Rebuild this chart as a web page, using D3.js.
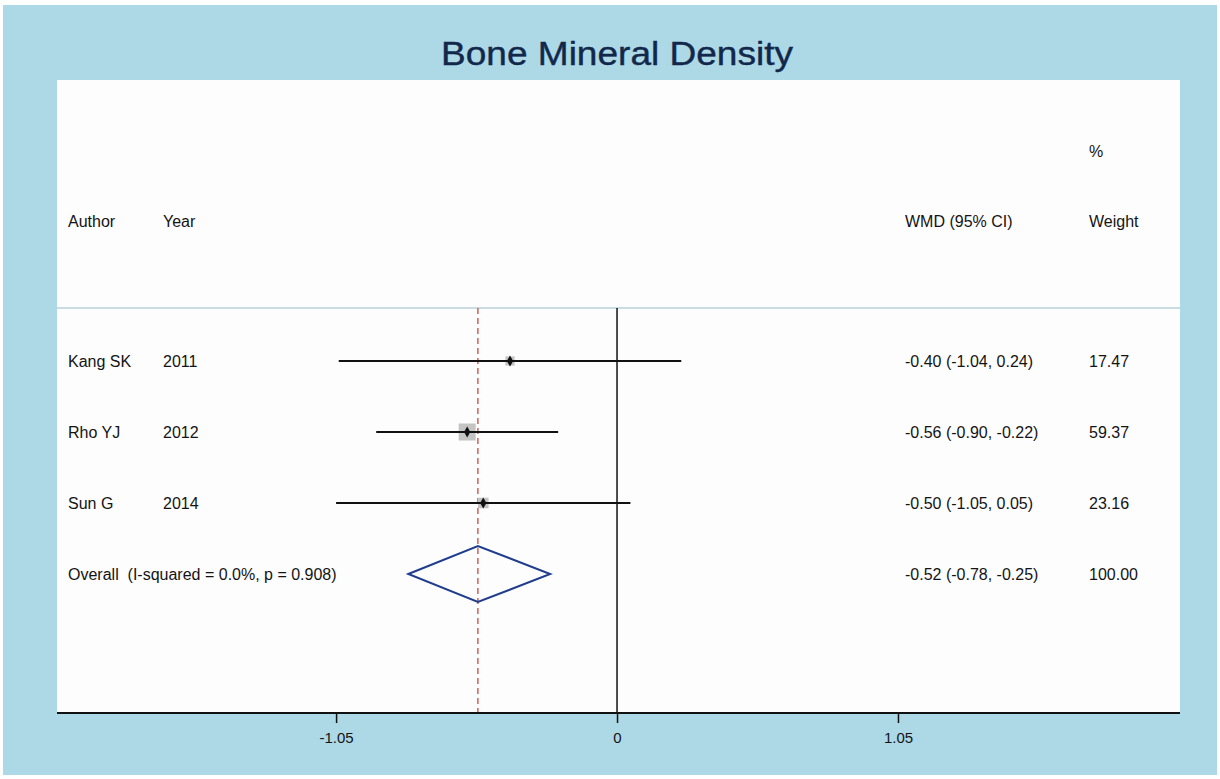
<!DOCTYPE html>
<html>
<head>
<meta charset="utf-8">
<script src="https://cdn.jsdelivr.net/npm/d3@7"></script>
<style>
  body { margin: 0; background: #fff; }
  svg text { font-family: "Liberation Sans", Arial, sans-serif; }
</style>
</head>
<body>
<div id="chart"></div>
<script>
// study data
const authors = ['Kang SK', 'Rho YJ', 'Sun G'];
const years = ['2011', '2012', '2014'];
const wmd = [-0.40, -0.56, -0.50];
const lower = [-1.04, -0.90, -1.05];
const upper = [0.24, -0.22, 0.05];
const weights = [17.47, 59.37, 23.16];
const overall = { label: 'Overall  (I-squared = 0.0%, p = 0.908)', est: -0.52, lo: -0.78, hi: -0.25, weight: 100.00 };
const tickValues = [-1.05, 0, 1.05];

const width = 1220, height = 779;
const plot = { left: 57, right: 1180, top: 80, bottom: 713 };
const headerLine = 308;
const fs = '16px';
const ink = '#141414';

const svg = d3.select('#chart').append('svg')
  .attr('width', width)
  .attr('height', height);

svg.append('rect')
  .attr('x', 3).attr('y', 5)
  .attr('width', 1214).attr('height', 770)
  .attr('fill', '#add8e6');

svg.append('rect')
  .attr('x', plot.left).attr('y', plot.top)
  .attr('width', plot.right - plot.left).attr('height', plot.bottom - plot.top)
  .attr('fill', '#fdfdfe');

svg.append('text')
  .attr('x', 441).attr('y', 65)
  .attr('textLength', 352)
  .attr('lengthAdjust', 'spacingAndGlyphs')
  .style('font-size', '33px')
  .attr('fill', '#12284b')
  .attr('stroke', '#12284b').attr('stroke-width', 0.4)
  .text('Bone Mineral Density');

const x = d3.scaleLinear()
  .domain([-2.093, 2.104])
  .range([plot.left, plot.right]);

const rows = authors.map((a, i) => ({
  author: a, year: years[i], est: wmd[i], lo: lower[i], hi: upper[i], w: weights[i]
}));
const y = d3.scalePoint()
  .domain(d3.range(rows.length + 1))
  .range([361, 574]);

// header
const headG = svg.append('g').style('font-size', fs).attr('fill', ink);
headG.append('text').attr('x', 68).attr('y', 227).text('Author');
headG.append('text').attr('x', 163).attr('y', 227).text('Year');
headG.append('text').attr('x', 905).attr('y', 227).text('WMD (95% CI)');
headG.append('text').attr('x', 1089).attr('y', 227).text('Weight');
headG.append('text').attr('x', 1089).attr('y', 157).text('%');

svg.append('line')
  .attr('x1', plot.left).attr('x2', plot.right)
  .attr('y1', headerLine).attr('y2', headerLine)
  .attr('stroke', '#b9cfd9').attr('stroke-width', 1.5);

// reference lines
svg.append('line')
  .attr('x1', x(0)).attr('x2', x(0))
  .attr('y1', headerLine).attr('y2', plot.bottom)
  .attr('stroke', '#111').attr('stroke-width', 1.5);

svg.append('line')
  .attr('x1', x(overall.est)).attr('x2', x(overall.est))
  .attr('y1', headerLine).attr('y2', plot.bottom)
  .attr('stroke', '#cc6357').attr('stroke-width', 1.5)
  .attr('stroke-dasharray', '6,4');

// study rows
const maxW = d3.max(weights);
const box = d3.scaleSqrt().domain([0, maxW]).range([0, 17]);

const rowG = svg.selectAll('.row').data(rows).enter()
  .append('g').attr('class', 'row')
  .attr('transform', (d, i) => `translate(0,${y(i)})`);

rowG.append('rect')
  .attr('x', d => x(d.est) - box(d.w) / 2)
  .attr('y', d => -box(d.w) / 2)
  .attr('width', d => box(d.w))
  .attr('height', d => box(d.w))
  .attr('fill', '#c4c4c4');

rowG.append('line')
  .attr('x1', d => x(d.lo)).attr('x2', d => x(d.hi))
  .attr('stroke', '#111').attr('stroke-width', 2);

rowG.append('path')
  .attr('d', d3.symbol(d3.symbolDiamond, 34))
  .attr('transform', d => `translate(${x(d.est)},0)`)
  .attr('fill', '#111');

const txt = rowG.append('g').style('font-size', fs).attr('fill', ink);
txt.append('text').attr('x', 68).attr('y', 6).text(d => d.author);
txt.append('text').attr('x', 163).attr('y', 6).text(d => d.year);
txt.append('text').attr('x', 905).attr('y', 6)
  .text(d => `${d.est.toFixed(2)} (${d.lo.toFixed(2)}, ${d.hi.toFixed(2)})`);
txt.append('text').attr('x', 1089).attr('y', 6).text(d => d.w.toFixed(2));

// overall
const oy = y(rows.length);
const half = 28;
svg.append('path')
  .attr('d', d3.line()([
    [x(overall.lo), oy], [x(overall.est), oy - half],
    [x(overall.hi), oy], [x(overall.est), oy + half]
  ]) + 'Z')
  .attr('fill', 'none')
  .attr('stroke', '#1f3d8c').attr('stroke-width', 2);

const og = svg.append('g').style('font-size', fs).attr('fill', ink);
og.append('text').attr('x', 68).attr('y', oy + 6).attr('xml:space', 'preserve').text(overall.label);
og.append('text').attr('x', 905).attr('y', oy + 6)
  .text(`${overall.est.toFixed(2)} (${overall.lo.toFixed(2)}, ${overall.hi.toFixed(2)})`);
og.append('text').attr('x', 1089).attr('y', oy + 6).text(overall.weight.toFixed(2));

// x axis
const axis = svg.append('g')
  .attr('transform', `translate(0,${plot.bottom})`)
  .call(d3.axisBottom(x).tickValues(tickValues).tickSize(10).tickPadding(9)
    .tickFormat(d => d === 0 ? '0' : d.toFixed(2)));
axis.select('.domain').remove();
axis.append('line')
  .attr('x1', plot.left).attr('x2', plot.right)
  .attr('stroke', '#111').attr('stroke-width', 2);
axis.selectAll('.tick line').attr('stroke', '#111').attr('stroke-width', 1.5);
axis.selectAll('.tick text')
  .style('font-size', '15px')
  .style('font-family', '"Liberation Sans", Arial, sans-serif')
  .attr('fill', ink);
</script>
</body>
</html>
